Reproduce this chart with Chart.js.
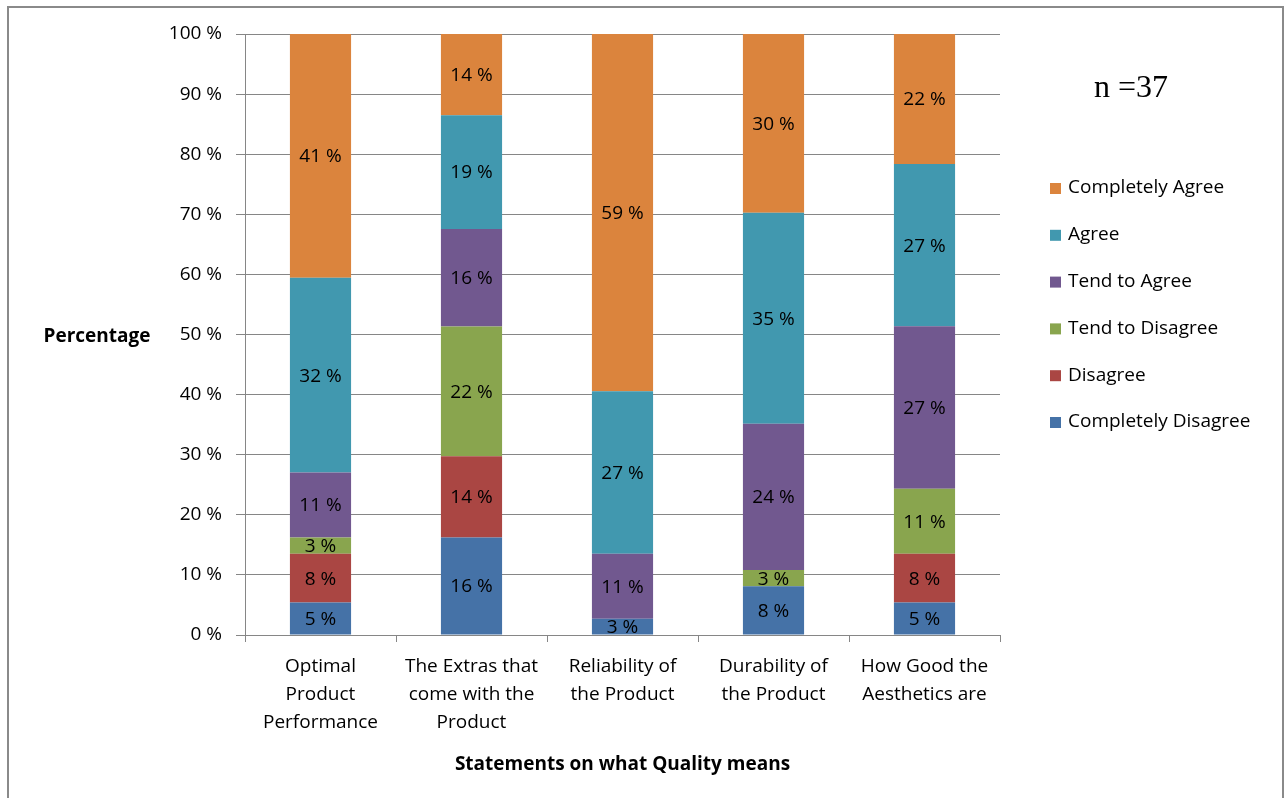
<!DOCTYPE html>
<html>
<head>
<meta charset="utf-8">
<title>Statements on what Quality means</title>
<script src="https://cdn.jsdelivr.net/npm/chart.js@4.4.1/dist/chart.umd.min.js"></script>
<style>
    html, body { margin: 0; padding: 0; background: #fff; }
    #wrap { position: relative; width: 1285px; height: 798px; }
</style>
</head>
<body>
<div id="wrap">
    <canvas id="chartQuality" width="1285" height="798"></canvas>
</div>
<script>
const categorias = [
    ['Optimal', 'Product', 'Performance'],
    ['The Extras that', 'come with the', 'Product'],
    ['Reliability of', 'the Product'],
    ['Durability of', 'the Product'],
    ['How Good the', 'Aesthetics are']
];

const yTicks = [0, 10, 20, 30, 40, 50, 60, 70, 80, 90, 100];

// percentages of the 37 answers, bottom to top of each stack
const completelyDisagree = [5.41, 16.22, 2.70, 8.11, 5.41];
const disagree           = [8.11, 13.51, 0, 0, 8.11];
const tendToDisagree     = [2.70, 21.62, 0, 2.70, 10.81];
const tendToAgree        = [10.81, 16.22, 10.81, 24.32, 27.03];
const agree              = [32.43, 18.92, 27.03, 35.14, 27.03];
const completelyAgree    = [40.54, 13.51, 59.46, 29.73, 21.62];

const nota = 'n =37';
const fuente = '"Open Sans", "Noto Sans", sans-serif';

const series = [
    { label: 'Completely Disagree', data: completelyDisagree, color: '#4572A7' },
    { label: 'Disagree',            data: disagree,           color: '#AA4643' },
    { label: 'Tend to Disagree',    data: tendToDisagree,     color: '#89A54E' },
    { label: 'Tend to Agree',       data: tendToAgree,        color: '#71588F' },
    { label: 'Agree',               data: agree,              color: '#4198AF' },
    { label: 'Completely Agree',    data: completelyAgree,    color: '#DB843D' }
];

// outline of the sheet: top, left and right edges
const marco = {
    id: 'marco',
    beforeDraw(chart) {
        const ctx = chart.ctx;
        ctx.save();
        ctx.strokeStyle = '#8a8a8a';
        ctx.lineWidth = 2;
        ctx.beginPath();
        ctx.moveTo(8, 798);
        ctx.lineTo(8, 7);
        ctx.lineTo(1283, 7);
        ctx.lineTo(1283, 798);
        ctx.stroke();
        ctx.restore();
    }
};

// value written in the middle of every segment
const etiquetas = {
    id: 'etiquetas',
    afterDatasetsDraw(chart) {
        const ctx = chart.ctx;
        ctx.save();
        ctx.font = '19px ' + fuente;
        ctx.fillStyle = '#000';
        ctx.textAlign = 'center';
        ctx.textBaseline = 'middle';
        chart.data.datasets.forEach((ds, i) => {
            chart.getDatasetMeta(i).data.forEach((bar, j) => {
                const v = ds.data[j];
                if (!v) return;
                ctx.fillText(Math.round(v) + ' %', bar.x, (bar.y + bar.base) / 2 + 1);
            });
        });
        ctx.restore();
    }
};

// y title, sample size and legend
const extras = {
    id: 'extras',
    afterDraw(chart) {
        const ctx = chart.ctx;
        ctx.save();
        ctx.textBaseline = 'middle';

        ctx.fillStyle = '#000';
        ctx.font = 'bold 19px ' + fuente;
        ctx.textAlign = 'center';
        ctx.fillText('Percentage', 97, 337);

        ctx.font = '32px "Liberation Serif", serif';
        ctx.textAlign = 'left';
        ctx.fillText(nota, 1094, 89);

        ctx.font = '19px ' + fuente;
        const items = chart.data.datasets.slice().reverse();
        items.forEach((ds, k) => {
            const y = 188 + k * 46.8;
            ctx.fillStyle = ds.backgroundColor;
            ctx.fillRect(1050, y - 5, 11, 11);
            ctx.fillStyle = '#000';
            ctx.fillText(ds.label, 1068, y);
        });
        ctx.restore();
    }
};

function mostrarGrafica() {
    const ctx = document.getElementById('chartQuality').getContext('2d');

    new Chart(ctx, {
        type: 'bar',
        data: {
            labels: categorias,
            datasets: series.map(s => ({
                label: s.label,
                data: s.data,
                backgroundColor: s.color,
                borderWidth: 0,
                categoryPercentage: 1,
                barPercentage: 0.405
            }))
        },
        options: {
            responsive: false,
            animation: false,
            devicePixelRatio: 1,
            layout: {
                padding: { top: 34, right: 285, bottom: 0, left: 0 }
            },
            plugins: {
                legend: { display: false },
                tooltip: { enabled: false }
            },
            scales: {
                x: {
                    stacked: true,
                    grid: {
                        offset: true,
                        drawOnChartArea: false,
                        drawTicks: true,
                        tickLength: 7,
                        color: '#868686'
                    },
                    border: { color: '#868686', width: 1 },
                    ticks: {
                        color: '#000',
                        padding: 11,
                        maxRotation: 0,
                        autoSkip: false,
                        font: { family: fuente, size: 19, lineHeight: 28 / 19 }
                    },
                    title: {
                        display: true,
                        text: 'Statements on what Quality means',
                        color: '#000',
                        font: { family: fuente, size: 19, weight: 'bold' },
                        padding: { top: 4, bottom: 22 }
                    },
                    afterFit(scale) { scale.height = 163; }
                },
                y: {
                    stacked: true,
                    min: 0,
                    max: 100,
                    afterBuildTicks(scale) { scale.ticks = yTicks.map(v => ({ value: v })); },
                    grid: {
                        color: '#868686',
                        tickLength: 9
                    },
                    border: { color: '#868686', width: 1 },
                    ticks: {
                        color: '#000',
                        padding: 14,
                        font: { family: fuente, size: 19 },
                        callback: v => v + ' %'
                    },
                    afterFit(scale) { scale.width = 245; }
                }
            }
        },
        plugins: [marco, etiquetas, extras]
    });
}

mostrarGrafica();
</script>
</body>
</html>
